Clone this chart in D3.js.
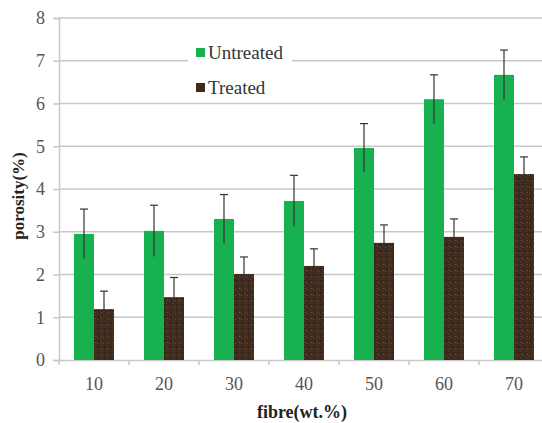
<!DOCTYPE html>
<html><head><meta charset="utf-8">
<script src="https://cdn.jsdelivr.net/npm/d3@7"></script>
<style>body{margin:0;background:#fff}svg{display:block}text{font-family:"Liberation Serif","DejaVu Serif",serif}</style>
</head><body>
<script>
const categories = ["10","20","30","40","50","60","70"];
const untreated = [2.95, 3.02, 3.30, 3.72, 4.96, 6.10, 6.67];
const untreatedErr = [0.58, 0.60, 0.57, 0.60, 0.57, 0.57, 0.58];
const treated = [1.19, 1.47, 2.01, 2.20, 2.74, 2.88, 4.35];
const treatedErr = [0.42, 0.46, 0.40, 0.40, 0.42, 0.42, 0.40];
const yTicks = [0,1,2,3,4,5,6,7,8];
const seriesNames = ["Untreated","Treated"];
const colors = ["#17b24f", "#3f2a1b"];

const W = 542, H = 423;
const FONT = "'Liberation Serif','DejaVu Serif',serif";
const svg = d3.select("body").append("svg").attr("width", W).attr("height", H);

const x = d3.scaleBand().domain(categories).range([59, 549]).paddingInner(0).paddingOuter(0);
const y = d3.scaleLinear().domain([0, 8]).range([360, 18]);
const barW = 20;

// texture pattern for treated
const defs = svg.append("defs");
const pat = defs.append("pattern").attr("id","tex").attr("width",6).attr("height",6).attr("patternUnits","userSpaceOnUse");
pat.append("rect").attr("width",6).attr("height",6).attr("fill",colors[1]);
pat.append("rect").attr("x",1).attr("y",1).attr("width",1).attr("height",1).attr("fill","#6b4a33");
pat.append("rect").attr("x",4).attr("y",3).attr("width",1).attr("height",1).attr("fill","#5a3d2a");
pat.append("rect").attr("x",2).attr("y",4).attr("width",1).attr("height",1).attr("fill","#241710");
pat.append("rect").attr("x",5).attr("y",0).attr("width",1).attr("height",1).attr("fill","#7a5238");

// gridlines
svg.append("g").selectAll("line").data(yTicks.filter(d=>d>0)).join("line")
  .attr("x1", 59).attr("x2", W).attr("y1", d=>y(d)).attr("y2", d=>y(d))
  .attr("stroke", "#c8c8c8").attr("stroke-width", 1.5);

// y axis
const yAxis = d3.axisLeft(y).tickValues(yTicks).tickSize(6).tickPadding(8).tickFormat(d3.format("d"));
const gy = svg.append("g").attr("transform","translate(59,0)").call(yAxis).attr("font-family", FONT);
gy.select(".domain").attr("stroke","#c8c8c8").attr("stroke-width",1.5);
gy.selectAll(".tick line").attr("stroke","#c8c8c8").attr("stroke-width",1.5);
gy.selectAll("text").style("font-family",FONT).attr("font-size",18).attr("fill","#555");

// x axis
const xAxis = d3.axisBottom(x).tickSize(0).tickPadding(17);
const gx = svg.append("g").attr("transform","translate(0,360)").call(xAxis).attr("font-family", FONT);
gx.select(".domain").attr("stroke","#c8c8c8").attr("stroke-width",1.5);
gx.selectAll("text").style("font-family",FONT).attr("font-size",18).attr("fill","#555");
// minor ticks at band boundaries
svg.append("g").selectAll("line").data(categories).join("line")
  .attr("x1", d=>x(d)).attr("x2", d=>x(d)).attr("y1",360).attr("y2",365)
  .attr("stroke","#c8c8c8").attr("stroke-width",1.5);

// bars
const groups = [
  {vals: untreated, err: untreatedErr, fill: colors[0], off: -barW},
  {vals: treated, err: treatedErr, fill: "url(#tex)", off: 0}
];
groups.forEach(g => {
  const cx = c => x(c) + x.bandwidth()/2 + g.off;
  svg.append("g").selectAll("rect").data(categories).join("rect")
    .attr("x", c => cx(c)).attr("width", barW)
    .attr("y", (c,i) => y(g.vals[i])).attr("height", (c,i) => y(0) - y(g.vals[i]))
    .attr("fill", g.fill);
  const eb = svg.append("g").attr("stroke","#333").attr("stroke-width",1.2);
  eb.selectAll("line.v").data(categories).join("line").attr("class","v")
    .attr("x1", c => cx(c)+barW/2).attr("x2", c => cx(c)+barW/2)
    .attr("y1", (c,i) => y(g.vals[i]-g.err[i])).attr("y2", (c,i) => y(g.vals[i]+g.err[i]));
  eb.selectAll("line.cap").data(categories).join("line").attr("class","cap")
    .attr("x1", c => cx(c)+barW/2-4).attr("x2", c => cx(c)+barW/2+4)
    .attr("y1", (c,i) => y(g.vals[i]+g.err[i])).attr("y2", (c,i) => y(g.vals[i]+g.err[i]));
});

// legend
const lg = svg.append("g");
lg.append("rect").attr("x",188).attr("y",34).attr("width",104).attr("height",66).attr("fill","#fff");
seriesNames.forEach((n,i) => {
  const yy = 53 + i*35;
  lg.append("rect").attr("x",196).attr("y",yy-5).attr("width",9).attr("height",9).attr("fill",colors[i]);
  lg.append("text").attr("x",208).attr("y",yy+6).text(n)
    .style("font-family",FONT).attr("font-size",19).attr("fill","#333");
});

// axis titles
svg.append("text").attr("transform","translate(24,196) rotate(-90)").attr("text-anchor","middle")
  .style("font-family",FONT).attr("font-weight","bold").attr("font-size",17).attr("fill","#222")
  .text("porosity(%)");
svg.append("text").attr("x",302).attr("y",418).attr("text-anchor","middle")
  .style("font-family",FONT).attr("font-weight","bold").attr("font-size",18).attr("fill","#222")
  .text("fibre(wt.%)");
</script>
</body></html>
